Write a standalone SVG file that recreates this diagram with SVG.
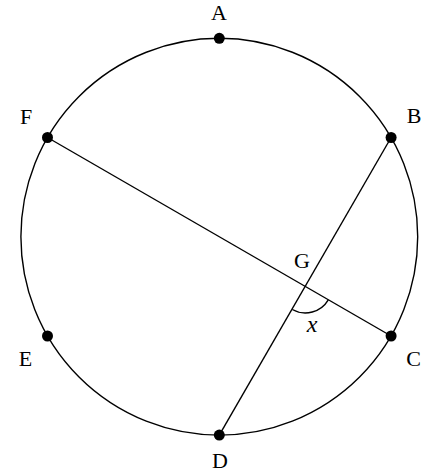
<svg xmlns="http://www.w3.org/2000/svg" width="440" height="473" viewBox="0 0 440 473">
<style>
.ln{fill:none;stroke:#000;stroke-width:1.4}
.pt{fill:#000}
.lb{font-family:"Liberation Serif","DejaVu Serif",serif;font-size:22px;fill:#000;text-anchor:middle}
.it{font-style:italic;font-size:24px}
</style>
<rect width="440" height="473" fill="#fff"/>
<g id="circle"><circle class="ln" cx="219.3" cy="236.7" r="198.4"/></g>
<g id="connectors">
<line class="ln" x1="47.5" y1="137.5" x2="391.1" y2="336"/>
<line class="ln" x1="391.1" y1="137.5" x2="219.3" y2="435.1"/>
<path class="ln" d="M 292.3 309.5 A 26.7 26.7 0 0 0 328.3 299.8"/>
</g>
<g id="A"><circle class="pt" cx="219.3" cy="38.3" r="5.5"/><text class="lb" x="219" y="19.5">A</text></g>
<g id="B"><circle class="pt" cx="391.1" cy="137.5" r="5.5"/><text class="lb" x="414" y="123">B</text></g>
<g id="C"><circle class="pt" cx="391.1" cy="336" r="5.5"/><text class="lb" x="413.5" y="366">C</text></g>
<g id="D"><circle class="pt" cx="219.3" cy="435.1" r="5.5"/><text class="lb" x="220" y="468">D</text></g>
<g id="E"><circle class="pt" cx="47.5" cy="336" r="5.5"/><text class="lb" x="25.5" y="366">E</text></g>
<g id="F"><circle class="pt" cx="47.5" cy="137.5" r="5.5"/><text class="lb" x="26" y="124">F</text></g>
<g id="G"><text class="lb" x="302" y="268">G</text></g>
<g id="x"><text class="lb it" x="312" y="332">x</text></g>
</svg>
